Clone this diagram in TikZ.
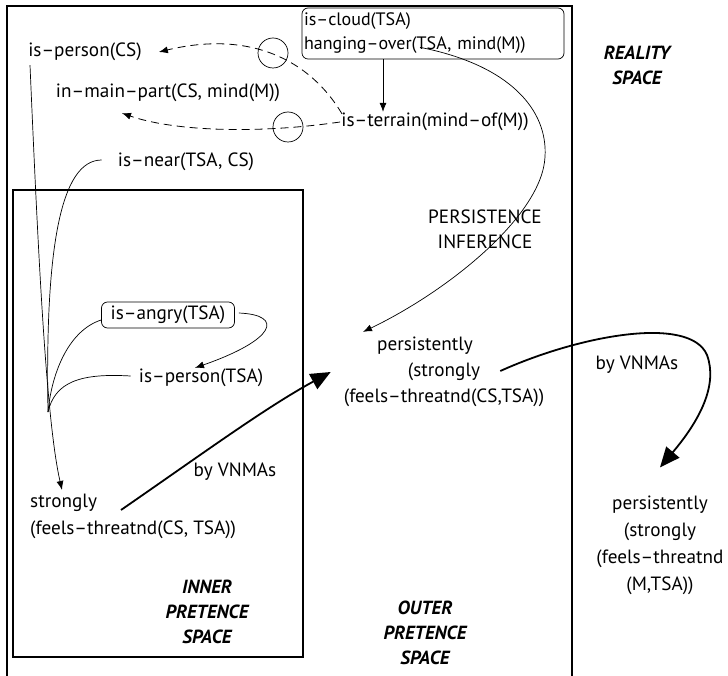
\documentclass[tikz,border=0pt]{standalone}
\usepackage{fontspec}
\setmainfont{PT Sans}
\usetikzlibrary{arrows.meta}
\begin{document}
\begin{tikzpicture}[x=1pt,y=-1pt,
  every node/.style={font=\fontsize{19.2}{25}\selectfont, inner sep=1pt},
  lbl/.style={align=center},
  space/.style={align=center, font=\fontsize{19}{25}\selectfont\bfseries\itshape},
  rbox/.style={draw, rounded corners=6pt, line width=0.7pt},
  thin/.style={line width=0.7pt},
  thinarr/.style={line width=0.7pt, -{Latex[length=9pt,width=7pt]}},
  dasharr/.style={line width=0.8pt, dash pattern=on 8pt off 5pt, -{Latex[length=9pt,width=7pt]}},
  thickarr/.style={line width=1.8pt, -{Triangle[length=20pt,width=17pt]}},
  frame/.style={line width=1.4pt},
  neg/.style={draw, circle, line width=0.7pt, minimum size=30pt, inner sep=0pt}
]
\useasboundingbox (0,0) rectangle (728,676);
% frames
\draw[frame] (7,676) -- (7,6) -- (572,6) -- (572,676);
\draw[frame] (13,190) rectangle (303,657);

% reality space
\node[rbox, minimum width=262pt, minimum height=51pt, text width=258pt, align=left, inner sep=1pt,
      font=\fontsize{18}{24}\selectfont] (cloud) at (433,33.5) {is–cloud(TSA)\\hanging–over(TSA, mind(M))};
\node (terrain) at (435,122) {is–terrain(mind–of(M))};
\node (personCS) at (85,52) {is–person(CS)};
\node (mainpart) at (168,93) {in–main–part(CS, mind(M))};
\node (near) at (186,162) {is–near(TSA, CS)};
\node[neg] (c1) at (273,53) {};
\node[neg] (c2) at (288,127) {};
\node[space] (reality) at (637,65) {REALITY\\SPACE};

% inner pretence
\node[rbox, minimum width=133pt, minimum height=26pt, inner sep=2pt] (angry) at (168,315) {is–angry(TSA)};
\node (personTSA) at (201,378) {is–person(TSA)};
\node[align=left, anchor=west, font=\fontsize{19.2}{27}\selectfont] (strongly) at (29,516.5) {strongly\\(feels–threatnd(CS, TSA))};
\node (vnma1) at (235,472) {by VNMAs};
\node[space] (inner) at (207,612) {INNER\\PRETENCE\\SPACE};

% outer pretence
\node[lbl] (persinf) at (485,229.5) {PERSISTENCE\\INFERENCE};
\node[align=center, font=\fontsize{19.2}{26}\selectfont] (pmid) at (444,372) {persistently\hspace*{38pt}\\(strongly\hspace*{38pt}\\(feels–threatnd(CS,TSA))};
\node[space] (outer) at (425,633) {OUTER\\PRETENCE\\SPACE};

% right
\node (vnma2) at (637,365) {by VNMAs};
\node[align=center, font=\fontsize{19.2}{27}\selectfont] (right) at (660,545) {persistently\\(strongly\\(feels–threatnd\\(M,TSA))};

% connectors
\coordinate (junc) at (48,412);
\draw[thinarr] ([xshift=-50pt]cloud.south) -- ([xshift=-52pt]terrain.north);
\draw[dasharr] ([xshift=-93pt,yshift=-2pt]terrain.north) .. controls (310,60) and (250,30) .. ([xshift=16pt]personCS.east);
\draw[dasharr] (terrain.west) .. controls (250,135) and (170,130) .. ([xshift=-46pt,yshift=-10pt]mainpart.south);
\draw[thinarr] ([xshift=-13pt,yshift=12pt]cloud.south) .. controls (510,65) and (548,110) .. (545,157)
   .. controls (542,215) and (450,290) .. ([xshift=-81pt,yshift=4pt]pmid.north);
\draw[thinarr] ([xshift=4pt,yshift=2pt]angry.east) .. controls (285,315) and (275,340) .. ([xshift=-6pt]personTSA.north);
% converging lines
\draw[thinarr] ([xshift=-55pt,yshift=-3pt]personCS.south) .. controls (38,250) and (46,420) .. ([xshift=33pt,yshift=3pt]strongly.north west);
\draw[thin] ([xshift=-15pt,yshift=2pt]near.west) .. controls (60,160) and (45,250) .. (junc);
\draw[thin] ([yshift=-5pt]angry.west) .. controls (70,330) and (52,370) .. (junc);
\draw[thin] ([xshift=-7pt,yshift=2pt]personTSA.west) .. controls (80,373) and (55,382) .. (junc);
% thick arrows
\draw[thickarr] ([xshift=92pt,yshift=6.5pt]strongly.west) .. controls (205,452) and (265,408) .. ([xshift=-12pt]pmid.west);
\draw[thickarr] ([xshift=-45pt,yshift=1pt]pmid.east) .. controls (580,335) and (690,315) .. (707,355)
   .. controls (718,385) and (700,420) .. ([yshift=27pt]right.north);
\end{tikzpicture}
\end{document}
